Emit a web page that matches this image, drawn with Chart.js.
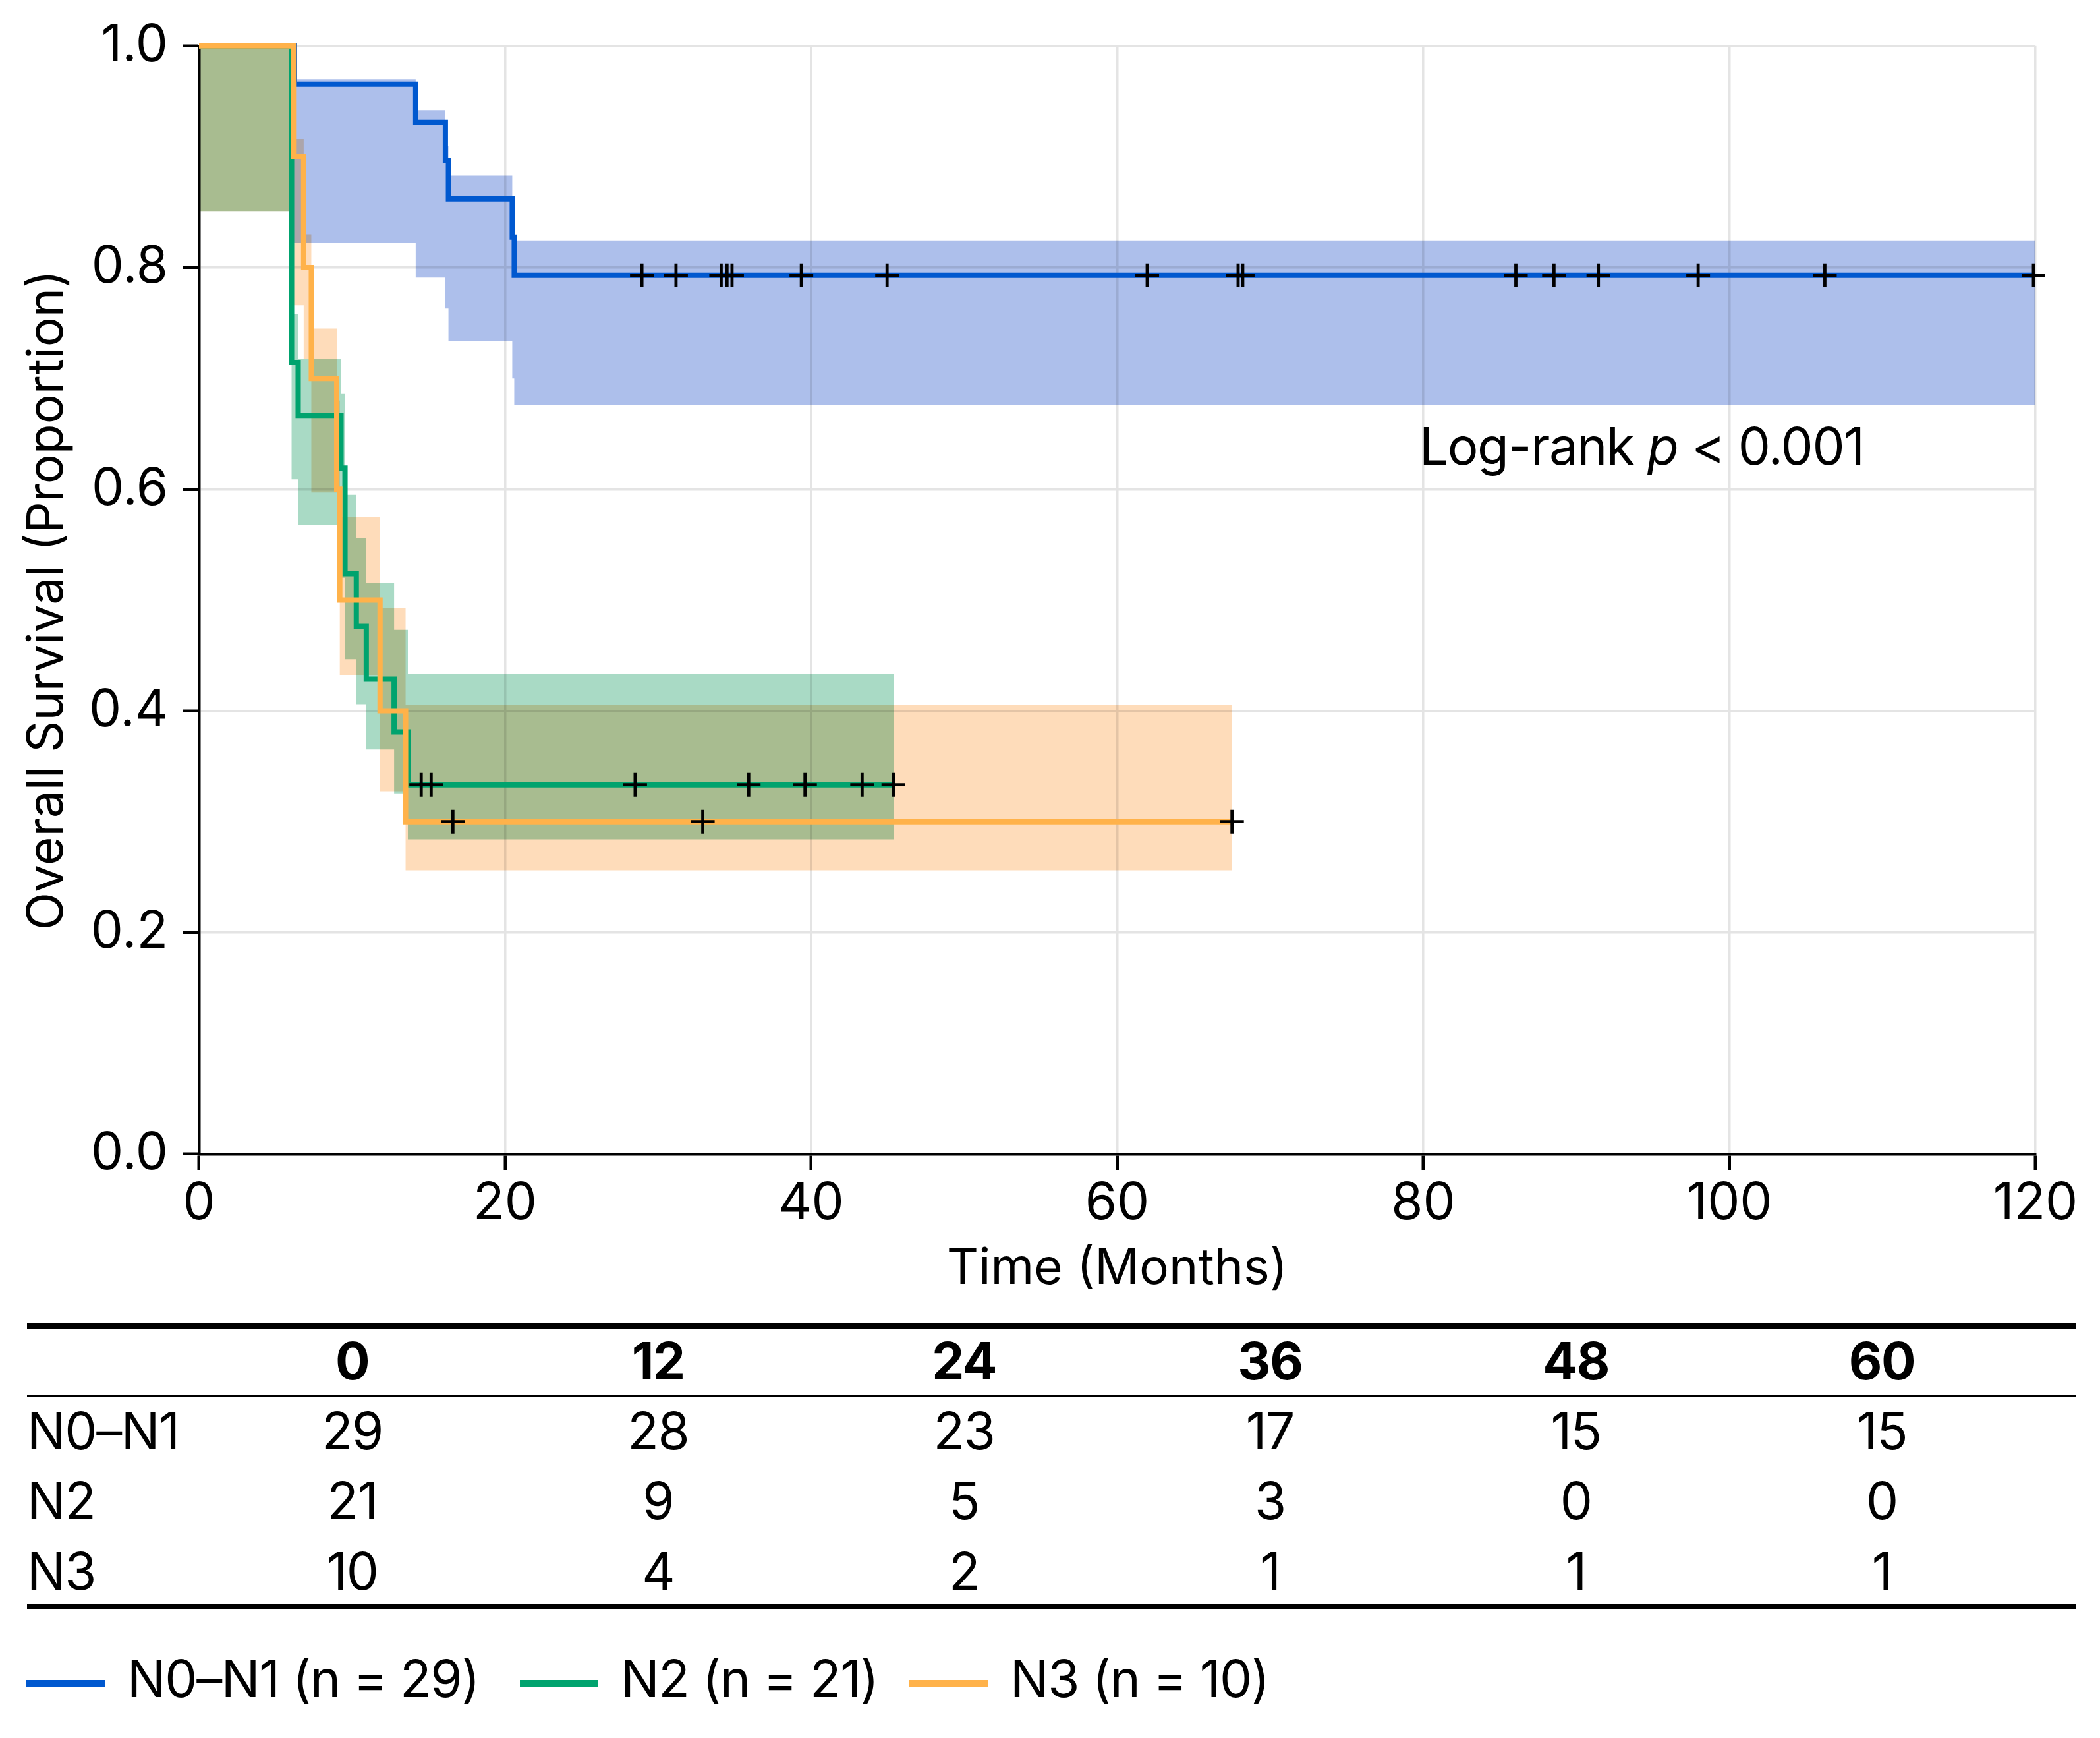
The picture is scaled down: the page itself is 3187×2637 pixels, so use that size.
<!DOCTYPE html>
<html>
<head>
<meta charset="utf-8">
<script src="https://cdn.jsdelivr.net/npm/chart.js@4.4.1/dist/chart.umd.min.js"></script>
<style>
  html, body { margin: 0; padding: 0; background: #fff; }
  body { width: 3187px; height: 2637px; position: relative; overflow: hidden;
         font-family: Inter, "DejaVu Sans", sans-serif; color: #000; }
  #c { position: absolute; left: 0; top: 0; }
  .t { position: absolute; font-size: 78px; line-height: 78px; white-space: nowrap; letter-spacing: -1.4px; }
  .cell { width: 300px; text-align: center; }
  .hl { position: absolute; left: 41px; width: 3109px; background: #000; }
  .sw { position: absolute; height: 10px; }
</style>
</head>
<body>
<canvas id="c" width="3187" height="1990" style="width:3187px;height:1990px"></canvas>
<div id="ann" class="t" style="left:2154px;top:638px">Log-rank <i>p</i> &lt; 0.001</div>
<div id="table"></div>
<div id="legend"></div>
<script>
// ---------------- DATA ----------------
// Kaplan–Meier step points (time in months, survival proportion)
const n01Time = [0, 6.2, 14.16, 16.1, 16.3, 20.47, 20.6, 120];
const n01Surv = [1.0, 0.9655, 0.931, 0.8966, 0.8621, 0.8276, 0.7931, 0.7931];
const n01CiTime = [6.2, 14.16, 16.1, 16.3, 20.47, 20.6, 120];
const n01CiLow  = [0.822, 0.791, 0.763, 0.734, 0.700, 0.676, 0.676];
const n01CiHigh = [0.970, 0.942, 0.910, 0.883, 0.850, 0.8245, 0.8245];
const n01Censor = [28.94, 31.17, 34.12, 34.5, 34.83, 39.36, 44.96, 61.96, 67.9, 68.2, 86.05, 88.54, 91.44, 97.96, 106.24, 119.87];

const n2Time = [0, 6.05, 6.48, 9.28, 9.54, 10.28, 10.93, 12.75, 13.65, 45.4];
const n2Surv = [1.0, 0.7143, 0.6667, 0.619, 0.5238, 0.4762, 0.4286, 0.381, 0.3333, 0.3333];
const n2CiTime = [0, 6.05, 6.48, 9.28, 9.54, 10.28, 10.93, 12.75, 13.65, 45.4];
const n2CiLow  = [0.851, 0.609, 0.568, 0.520, 0.4465, 0.406, 0.365, 0.3255, 0.284, 0.284];
const n2CiHigh = [1.0, 0.758, 0.718, 0.686, 0.595, 0.556, 0.5155, 0.473, 0.433, 0.433];
const n2Censor = [14.52, 15.17, 28.5, 35.92, 39.6, 43.33, 45.37];

const n3Time = [0, 6.17, 6.84, 7.34, 9.0, 9.2, 11.83, 13.5, 67.5];
const n3Surv = [1.0, 0.9, 0.8, 0.7, 0.6, 0.5, 0.4, 0.3, 0.3];
const n3CiTime = [0, 6.17, 6.84, 7.34, 9.0, 9.2, 11.83, 13.5, 67.5];
const n3CiLow  = [0.851, 0.766, 0.718, 0.597, 0.500, 0.4325, 0.3275, 0.256, 0.256];
const n3CiHigh = [1.0, 0.916, 0.830, 0.745, 0.680, 0.575, 0.4925, 0.405, 0.405];
const n3Censor = [16.59, 32.92, 67.5];

const xTicks = [0, 20, 40, 60, 80, 100, 120];
const yTicks = [0.0, 0.2, 0.4, 0.6, 0.8, 1.0];

// Numbers at risk
const riskTimes = [0, 12, 24, 36, 48, 60];
const riskLabels = ['N0–N1', 'N2', 'N3'];
const riskN01 = [29, 28, 23, 17, 15, 15];
const riskN2  = [21, 9, 5, 3, 0, 0];
const riskN3  = [10, 4, 2, 1, 1, 1];

const legendLabels = ['N0–N1 (n = 29)', 'N2 (n = 21)', 'N3 (n = 10)'];

// ---------------- STYLE ----------------
const BLUE = '#0058cf', GREEN = '#00a36e', ORANGE = '#ffb24a';
const BLUE_BAND = '#adbfeb', GREEN_BAND = '#a9dac5', ORANGE_BAND = '#fedcba';
const FS = 78, TFS = 75;

// helpers
const pts = (xs, ys) => xs.map((x, i) => ({ x: x, y: ys[i] }));
function survAt(times, surv, t) {
  let v = surv[0];
  for (let i = 0; i < times.length; i++) { if (times[i] <= t) v = surv[i]; }
  return v;
}
const censorPts = (cens, times, surv) => cens.map(t => ({ x: t, y: survAt(times, surv, t) }));

function stepLine(label, xs, ys, color, order) {
  return { type: 'line', label: label, data: pts(xs, ys), stepped: 'before',
    borderColor: color, borderWidth: 8, pointRadius: 0, pointHoverRadius: 0,
    fill: false, order: order, clip: false, borderCapStyle: 'butt', borderJoinStyle: 'miter' };
}
function band(xs, lo, hi, color) {
  return [
    { type: 'line', isBand: true, data: pts(xs, hi), stepped: 'before', borderWidth: 0,
      borderColor: 'rgba(0,0,0,0)', pointRadius: 0, backgroundColor: color, fill: '+1', order: 10 },
    { type: 'line', isBand: true, data: pts(xs, lo), stepped: 'before', borderWidth: 0,
      borderColor: 'rgba(0,0,0,0)', pointRadius: 0, fill: false, order: 10 }
  ];
}
function censors(data) {
  return { type: 'scatter', data: data, pointStyle: 'cross', pointRadius: 18, pointHoverRadius: 18,
    pointBorderWidth: 4.8, pointBorderColor: '#000', borderColor: '#000', showLine: false,
    order: 0, clip: false };
}

const blendPlugin = {
  id: 'blend',
  beforeDatasetsDraw(chart) { chart.ctx.save(); chart.ctx.globalCompositeOperation = 'multiply'; },
  beforeDatasetDraw(chart, args) {
    if (!chart.data.datasets[args.index].isBand) chart.ctx.globalCompositeOperation = 'source-over';
  },
  afterDatasetsDraw(chart) { chart.ctx.restore(); }
};

function build() {
  Chart.defaults.font.family = 'Inter';
  Chart.defaults.color = '#000';
  const datasets = [].concat(
    band(n01CiTime, n01CiLow, n01CiHigh, BLUE_BAND),
    band(n2CiTime, n2CiLow, n2CiHigh, GREEN_BAND),
    band(n3CiTime, n3CiLow, n3CiHigh, ORANGE_BAND),
    [stepLine('N0–N1', n01Time, n01Surv, BLUE, 3),
     stepLine('N2', n2Time, n2Surv, GREEN, 2),
     stepLine('N3', n3Time, n3Surv, ORANGE, 1),
     censors(censorPts(n01Censor, n01Time, n01Surv)),
     censors(censorPts(n2Censor, n2Time, n2Surv)),
     censors(censorPts(n3Censor, n3Time, n3Surv))]
  );

  new Chart(document.getElementById('c'), {
    type: 'line',
    data: { datasets: datasets },
    plugins: [blendPlugin],
    options: {
      responsive: false, animation: false, devicePixelRatio: 1,
      layout: { padding: { left: 0, top: 63, right: 98, bottom: 0 } },
      plugins: { legend: { display: false }, tooltip: { enabled: false } },
      scales: {
        x: {
          type: 'linear', min: 0, max: 120,
          afterBuildTicks: s => { s.ticks = xTicks.map(v => ({ value: v })); },
          afterFit: s => { s.height = 239; },
          ticks: { font: { size: FS }, color: '#000', padding: 5, maxRotation: 0,
                   callback: v => String(v) },
          grid: { color: '#e4e4e4', lineWidth: 3.5, tickColor: '#000', tickLength: 24, tickWidth: 4.5 },
          border: { color: '#000', width: 4.5 },
          title: { display: true, text: 'Time (Months)', font: { size: TFS }, color: '#000',
                   padding: { top: 0, bottom: 20 } }
        },
        y: {
          type: 'linear', min: 0, max: 1,
          afterBuildTicks: s => { s.ticks = yTicks.map(v => ({ value: v })); },
          afterFit: s => { s.width = 302; },
          ticks: { font: { size: FS }, color: '#000', padding: 23, callback: v => Number(v).toFixed(1) },
          grid: { color: '#e4e4e4', lineWidth: 3.5, tickColor: '#000', tickLength: 24, tickWidth: 4.5 },
          border: { color: '#000', width: 4.5 },
          title: { display: true, text: 'Overall Survival (Proportion)', font: { size: TFS }, color: '#000',
                   padding: { top: 27, bottom: 0 } }
        }
      }
    }
  });

  // ---------- risk table (HTML text) ----------
  const tbl = document.getElementById('table');
  const colX = riskTimes.map((_, i) => 534.5 + i * 464.3);
  const rowY = [2171, 2277, 2384];
  const headY = 2065;
  const lines = [[2008, 8], [2116, 4], [2433, 8]];
  lines.forEach(([top, h]) => {
    const d = document.createElement('div'); d.className = 'hl';
    d.style.top = top + 'px'; d.style.height = h + 'px'; tbl.appendChild(d);
  });
  function cell(text, cx, cy, bold) {
    const d = document.createElement('div'); d.className = 't cell';
    d.style.left = (cx - 150) + 'px'; d.style.top = (cy - 39) + 'px';
    if (bold) d.style.fontWeight = '700';
    d.textContent = text; tbl.appendChild(d);
  }
  riskTimes.forEach((t, i) => cell(String(t), colX[i], headY, true));
  [riskN01, riskN2, riskN3].forEach((row, r) => {
    const lab = document.createElement('div'); lab.className = 't';
    lab.style.left = '41px'; lab.style.top = (rowY[r] - 39) + 'px';
    lab.textContent = riskLabels[r]; tbl.appendChild(lab);
    row.forEach((n, i) => cell(String(n), colX[i], rowY[r], false));
  });

  // ---------- legend (HTML) ----------
  const lg = document.getElementById('legend');
  const swX = [40, 789, 1380];
  const colors = [BLUE, GREEN, ORANGE];
  legendLabels.forEach((txt, i) => {
    const s = document.createElement('div'); s.className = 'sw';
    s.style.left = swX[i] + 'px'; s.style.width = '119px'; s.style.top = (2554 - 5) + 'px';
    s.style.background = colors[i]; lg.appendChild(s);
    const t = document.createElement('div'); t.className = 't';
    t.style.left = (swX[i] + 153) + 'px'; t.style.top = (2547 - 39) + 'px';
    t.textContent = txt; lg.appendChild(t);
  });
}

if (document.fonts && document.fonts.load) {
  Promise.all([document.fonts.load('78px Inter'), document.fonts.load('bold 78px Inter')])
    .then(build, build);
} else { build(); }
</script>
</body>
</html>
